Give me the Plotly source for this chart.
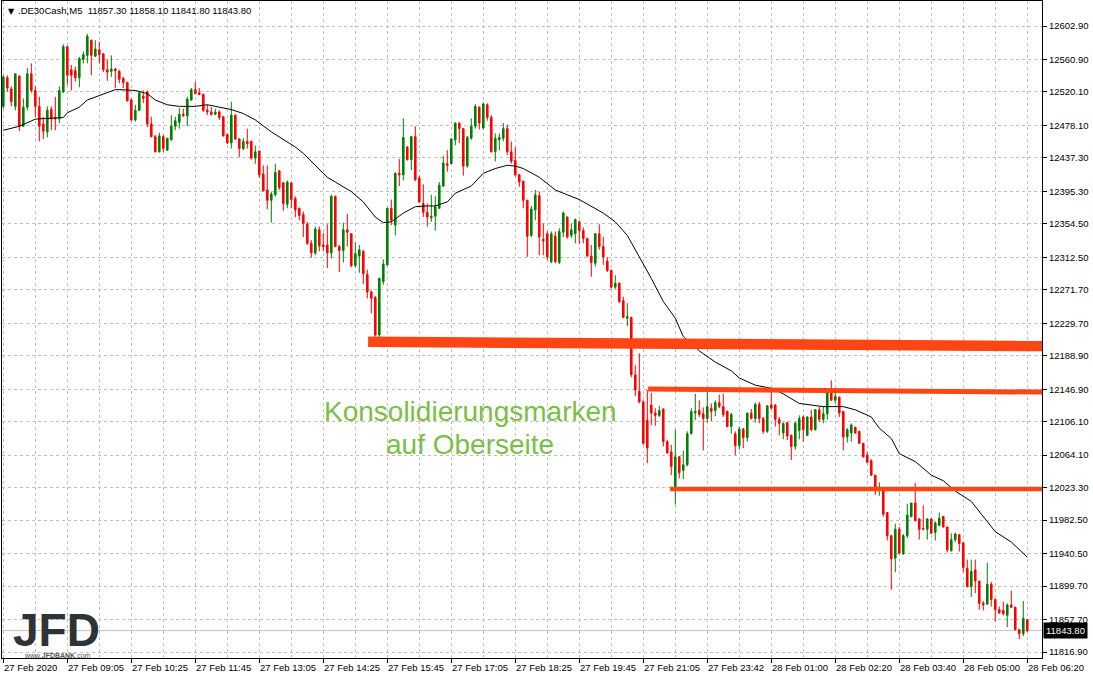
import plotly.graph_objects as go

# ---------------- data ----------------
bars = list(range(257))

opens = [
    12502, 12538, 12524, 12502, 12540, 12477, 12501, 12543, 12522, 12502,
    12480, 12470, 12498, 12488, 12486, 12520, 12577, 12548, 12547, 12538,
    12561, 12566, 12585, 12565, 12573, 12568, 12548, 12546, 12549, 12546,
    12537, 12532, 12510, 12485, 12497, 12515, 12520, 12480, 12464, 12445,
    12464, 12447, 12460, 12477, 12482, 12492, 12490, 12510, 12523, 12519,
    12517, 12497, 12495, 12492, 12495, 12489, 12467, 12456, 12491, 12461,
    12449, 12458, 12458, 12437, 12446, 12417, 12397, 12384, 12391, 12421,
    12406, 12379, 12406, 12386, 12374, 12366, 12354, 12330, 12318, 12347,
    12328, 12328, 12318, 12389, 12326, 12321, 12347, 12342, 12302, 12314,
    12320, 12291, 12269, 12262, 12215, 12282, 12303, 12374, 12353, 12418,
    12416, 12451, 12435, 12464, 12412, 12380, 12369, 12362, 12364, 12374,
    12402, 12430, 12430, 12460, 12481, 12474, 12427, 12462, 12477, 12501,
    12475, 12504, 12488, 12445, 12460, 12462, 12474, 12445, 12434, 12416,
    12408, 12384, 12340, 12372, 12390, 12335, 12342, 12307, 12339, 12306,
    12344, 12363, 12340, 12342, 12357, 12346, 12336, 12314, 12305, 12342,
    12326, 12308, 12296, 12275, 12280, 12258, 12236, 12237, 12165, 12144,
    12131, 12108, 12127, 12117, 12114, 12122, 12081, 12068, 12024, 12062,
    12045, 12052, 12091, 12117, 12120, 12116, 12110, 12123, 12120, 12130,
    12125, 12119, 12100, 12091, 12076, 12097, 12086, 12117, 12110, 12128,
    12110, 12094, 12127, 12127, 12109, 12092, 12105, 12089, 12075, 12095,
    12112, 12089, 12112, 12096, 12121, 12109, 12116, 12145, 12133, 12137,
    12119, 12087, 12092, 12099, 12094, 12079, 12064, 12057, 12039, 12022,
    12019, 11992, 11963, 11935, 11971, 11940, 11963, 11987, 12004, 11984,
    11972, 11971, 11984, 11967, 11976, 11987, 11974, 11944, 11958, 11964,
    11954, 11922, 11899, 11920, 11906, 11878, 11877, 11902, 11883, 11870,
    11869, 11863, 11876, 11873, 11845, 11840, 11857.3,
]

highs = [
    12541, 12541, 12527, 12543, 12541, 12512, 12550, 12556, 12527, 12514,
    12489, 12502, 12502, 12514, 12527, 12580, 12578, 12554, 12552, 12564,
    12571, 12593, 12586, 12585, 12583, 12569, 12561, 12566, 12550, 12548,
    12539, 12533, 12512, 12504, 12520, 12522, 12522, 12489, 12466, 12469,
    12466, 12462, 12491, 12489, 12500, 12499, 12514, 12525, 12533, 12525,
    12518, 12504, 12501, 12499, 12497, 12489, 12467, 12508, 12492, 12462,
    12462, 12474, 12459, 12453, 12446, 12428, 12428, 12395, 12430, 12422,
    12407, 12409, 12407, 12389, 12375, 12370, 12357, 12334, 12351, 12351,
    12343, 12354, 12391, 12390, 12328, 12356, 12367, 12343, 12331, 12328,
    12322, 12297, 12271, 12264, 12287, 12310, 12375, 12385, 12419, 12436,
    12487, 12452, 12465, 12477, 12415, 12404, 12380, 12391, 12389, 12407,
    12440, 12447, 12462, 12482, 12482, 12475, 12465, 12487, 12505, 12502,
    12507, 12506, 12491, 12468, 12468, 12481, 12479, 12458, 12451, 12417,
    12409, 12385, 12377, 12397, 12395, 12355, 12345, 12345, 12345, 12349,
    12370, 12364, 12355, 12361, 12358, 12350, 12337, 12328, 12343, 12354,
    12338, 12313, 12297, 12290, 12281, 12263, 12255, 12238, 12177, 12192,
    12133, 12146, 12142, 12123, 12126, 12123, 12083, 12077, 12096, 12063,
    12070, 12094, 12123, 12141, 12133, 12124, 12144, 12129, 12133, 12140,
    12141, 12120, 12117, 12094, 12100, 12098, 12117, 12122, 12130, 12131,
    12112, 12127, 12144, 12128, 12112, 12105, 12106, 12090, 12106, 12114,
    12114, 12113, 12121, 12122, 12125, 12125, 12147, 12158, 12144, 12137,
    12119, 12098, 12104, 12100, 12094, 12079, 12068, 12059, 12039, 12030,
    12020, 11992, 11963, 11978, 11974, 11965, 12003, 12004, 12029, 11985,
    12001, 11985, 11985, 11981, 11992, 11988, 11974, 11966, 11967, 11965,
    11954, 11933, 11933, 11933, 11906, 11881, 11929, 11905, 11884, 11874,
    11880, 11878, 11894, 11874, 11845, 11881, 11858.1,
]

lows = [
    12499, 12520, 12502, 12497, 12471, 12476, 12497, 12519, 12489, 12458,
    12461, 12463, 12472, 12472, 12481, 12519, 12529, 12522, 12533, 12526,
    12556, 12556, 12541, 12564, 12556, 12545, 12534, 12539, 12525, 12531,
    12525, 12508, 12483, 12483, 12496, 12506, 12476, 12463, 12444, 12444,
    12445, 12446, 12459, 12472, 12474, 12489, 12477, 12509, 12517, 12516,
    12495, 12491, 12490, 12491, 12485, 12464, 12455, 12449, 12460, 12438,
    12447, 12449, 12435, 12430, 12412, 12395, 12373, 12356, 12389, 12397,
    12371, 12374, 12374, 12363, 12359, 12338, 12328, 12312, 12315, 12320,
    12320, 12299, 12311, 12325, 12294, 12306, 12326, 12300, 12300, 12293,
    12279, 12261, 12242, 12213, 12212, 12278, 12302, 12353, 12340, 12402,
    12409, 12434, 12422, 12408, 12381, 12363, 12351, 12357, 12346, 12373,
    12401, 12420, 12430, 12453, 12456, 12415, 12425, 12460, 12474, 12473,
    12473, 12484, 12444, 12433, 12447, 12458, 12441, 12430, 12414, 12401,
    12374, 12313, 12338, 12359, 12315, 12315, 12309, 12305, 12305, 12304,
    12338, 12336, 12337, 12330, 12329, 12330, 12313, 12288, 12301, 12322,
    12303, 12294, 12273, 12273, 12255, 12236, 12226, 12162, 12138, 12129,
    12077, 12054, 12102, 12101, 12112, 12075, 12066, 12039, 12002, 12035,
    12034, 12050, 12090, 12108, 12112, 12070, 12105, 12107, 12113, 12123,
    12112, 12099, 12091, 12064, 12071, 12073, 12081, 12109, 12105, 12104,
    12091, 12092, 12122, 12100, 12089, 12084, 12083, 12058, 12071, 12084,
    12081, 12088, 12094, 12095, 12106, 12104, 12109, 12132, 12129, 12112,
    12070, 12080, 12081, 12091, 12078, 12061, 12054, 12038, 12014, 12013,
    11987, 11957, 11895, 11917, 11940, 11939, 11960, 11986, 11981, 11958,
    11970, 11958, 11965, 11957, 11975, 11973, 11942, 11943, 11955, 11943,
    11917, 11898, 11886, 11891, 11870, 11869, 11876, 11874, 11855, 11865,
    11863, 11848, 11872, 11844, 11833, 11837, 11841.8,
]

closes = [
    12539, 12525, 12508, 12543, 12477, 12501, 12543, 12522, 12502, 12477,
    12471, 12497, 12486, 12486, 12522, 12577, 12541, 12541, 12538, 12562,
    12567, 12590, 12566, 12574, 12567, 12548, 12545, 12549, 12547, 12536,
    12532, 12509, 12485, 12497, 12519, 12512, 12480, 12464, 12445, 12465,
    12449, 12462, 12477, 12484, 12492, 12490, 12511, 12523, 12518, 12517,
    12497, 12495, 12492, 12495, 12488, 12465, 12456, 12491, 12461, 12449,
    12458, 12455, 12437, 12445, 12416, 12396, 12384, 12392, 12419, 12400,
    12380, 12407, 12385, 12372, 12365, 12355, 12330, 12318, 12348, 12327,
    12326, 12318, 12389, 12326, 12321, 12347, 12344, 12302, 12317, 12322,
    12292, 12269, 12261, 12215, 12286, 12304, 12374, 12359, 12418, 12416,
    12463, 12435, 12464, 12410, 12382, 12369, 12363, 12364, 12376, 12403,
    12431, 12428, 12461, 12481, 12474, 12427, 12463, 12477, 12502, 12481,
    12505, 12488, 12445, 12462, 12463, 12474, 12445, 12433, 12416, 12407,
    12384, 12339, 12373, 12391, 12338, 12333, 12313, 12342, 12307, 12345,
    12368, 12338, 12347, 12360, 12346, 12336, 12314, 12306, 12342, 12326,
    12313, 12296, 12275, 12280, 12257, 12237, 12238, 12165, 12146, 12131,
    12079, 12073, 12117, 12114, 12120, 12081, 12067, 12050, 12062, 12042,
    12052, 12091, 12119, 12119, 12115, 12110, 12125, 12119, 12130, 12125,
    12115, 12100, 12115, 12076, 12097, 12086, 12117, 12110, 12128, 12110,
    12094, 12126, 12123, 12109, 12104, 12104, 12088, 12075, 12104, 12110,
    12096, 12112, 12096, 12121, 12109, 12116, 12145, 12133, 12138, 12117,
    12087, 12096, 12102, 12092, 12079, 12062, 12055, 12039, 12024, 12024,
    11990, 11963, 11934, 11971, 11941, 11963, 11989, 12004, 11982, 11971,
    11971, 11984, 11966, 11979, 11985, 11974, 11945, 11958, 11965, 11953,
    11923, 11899, 11918, 11906, 11878, 11876, 11902, 11883, 11870, 11866,
    11865, 11876, 11873, 11845, 11840, 11859, 11843.8,
]

# moving average line (at these bars)
ma_bar = [0, 4, 8, 12, 15, 16, 19, 21, 24, 28,
          29, 33, 36, 38, 41, 44, 48, 51, 53, 57,
          60, 63, 67, 70, 73, 75, 78, 81, 83, 87,
          90, 93, 95, 97, 100, 103, 106, 108, 111, 113,
          117, 120, 123, 126, 128, 130, 134, 138, 144, 147,
          150, 153, 156, 159, 162, 165, 168, 170, 174, 178,
          182, 184, 188, 192, 195, 199, 205, 210, 213, 217,
          219, 222, 224, 228, 232, 235, 238, 242, 245, 248,
          252, 256]
ma_val = [12472, 12477, 12486, 12487, 12488, 12494, 12501, 12510, 12516, 12523,
          12523, 12522, 12518, 12510, 12504, 12502, 12502, 12504, 12502, 12498,
          12493, 12485, 12470, 12460, 12451, 12443, 12428, 12413, 12407, 12395,
          12382, 12363, 12356, 12357, 12368, 12376, 12377, 12377, 12382, 12393,
          12402, 12418, 12424, 12428, 12427, 12424, 12413, 12397, 12385, 12377,
          12368, 12357, 12340, 12313, 12286, 12257, 12236, 12213, 12195, 12181,
          12170, 12161, 12152, 12148, 12141, 12129, 12125, 12125, 12121, 12112,
          12098, 12085, 12066, 12056, 12039, 12032, 12019, 12006, 11987, 11968,
          11955, 11936]

price_ticks = [12602.90, 12560.90, 12520.10, 12478.10, 12437.30, 12395.30,
               12354.50, 12312.50, 12271.70, 12229.70, 12188.90, 12146.90,
               12106.10, 12064.10, 12023.30, 11982.50, 11940.50, 11899.70,
               11857.70, 11816.90]

time_labels = ["27 Feb 2020", "27 Feb 09:05", "27 Feb 10:25", "27 Feb 11:45",
               "27 Feb 13:05", "27 Feb 14:25", "27 Feb 15:45", "27 Feb 17:05",
               "27 Feb 18:25", "27 Feb 19:45", "27 Feb 21:05", "27 Feb 23:42",
               "28 Feb 01:00", "28 Feb 02:20", "28 Feb 03:40", "28 Feb 05:00",
               "28 Feb 06:20"]

# hand-drawn level lines: start bar, start price, end price
level_start = [91.2, 161.2, 166.7]
level_p0 = [12206.5, 12147.0, 12021.5]
level_p1 = [12201.0, 12143.3, 12021.5]

symbol = ".DE30Cash,M5"
last_price = 11843.80
note_lines = ["Konsolidierungsmarken", "auf Oberseite"]

# ---------------- figure ----------------
FONT = "Liberation Sans"
X_RANGE = [-0.33, 259.68]
Y_RANGE = [11809.4, 12634.3]
GREEN = "#008000"
RED = "#FF0000"
LEVEL = "#FF4513"
GRID = "#C0C0C0"

hi = [max(h, o, c) for h, o, c in zip(highs, opens, closes)]
lo = [min(l, o, c) for l, o, c in zip(lows, opens, closes)]

fig = go.Figure()
fig.add_trace(go.Candlestick(
    x=bars, open=opens, high=hi, low=lo, close=closes,
    increasing=dict(line=dict(color=GREEN, width=1), fillcolor=GREEN),
    decreasing=dict(line=dict(color=RED, width=1), fillcolor=RED),
    whiskerwidth=0, showlegend=False, hoverinfo="skip"))
fig.add_trace(go.Scatter(
    x=ma_bar, y=ma_val, mode="lines",
    line=dict(color="black", width=1), showlegend=False, hoverinfo="skip"))

shapes = []
# current price line
shapes.append(dict(type="line", xref="paper", x0=0, x1=1, yref="y",
                   y0=last_price, y1=last_price,
                   line=dict(color=GRID, width=1), layer="below"))
widths = [10.5, 5, 4.5]
for s, p0, p1, w in zip(level_start, level_p0, level_p1, widths):
    shapes.append(dict(type="line", xref="x", yref="y", x0=s, x1=X_RANGE[1] + 0.5,
                       y0=p0, y1=p0 + (p1 - p0) * (X_RANGE[1] + 0.5 - s) / (X_RANGE[1] - s),
                       line=dict(color=LEVEL, width=w), layer="above"))

annotations = []
for i, lab in enumerate(time_labels):
    annotations.append(dict(x=16 * i, xref="x", y=0, yref="paper",
                            xanchor="left", yanchor="top", yshift=-2, xshift=-1,
                            text=lab, showarrow=False,
                            font=dict(family=FONT, size=9.5, color="black")))
# header
annotations.append(dict(x=0, xref="paper", y=1, yref="paper", xanchor="left",
                        yanchor="top", xshift=4, yshift=-4, text="▼", showarrow=False,
                        font=dict(family="DejaVu Sans", size=8, color="black")))
annotations.append(dict(x=0, xref="paper", y=1, yref="paper", xanchor="left",
                        yanchor="top", xshift=14, yshift=-2,
                        text=f"{symbol}  " + " ".join(f"{v:.2f}" for v in
                             [opens[-1], highs[-1], lows[-1], closes[-1]]),
                        showarrow=False, font=dict(family=FONT, size=9.5, color="black")))
# last price box
annotations.append(dict(x=1, xref="paper", y=last_price, yref="y", xanchor="left",
                        yanchor="middle", xshift=1, text=f"{last_price:.2f}",
                        showarrow=False, bgcolor="black", borderpad=2,
                        font=dict(family=FONT, size=9.5, color="white")))
# note text
annotations.append(dict(x=116.7, xref="x", y=12119.5, yref="y", text=note_lines[0],
                        showarrow=False, xanchor="center", yanchor="middle",
                        font=dict(family=FONT, size=28, color="#7ABF45")))
annotations.append(dict(x=116.7, xref="x", y=12078.0, yref="y", text=note_lines[1],
                        showarrow=False, xanchor="center", yanchor="middle",
                        font=dict(family=FONT, size=28, color="#7ABF45")))
# logo
annotations.append(dict(x=0, xref="paper", y=0, yref="paper", xanchor="center",
                        yanchor="bottom", xshift=54, yshift=10, text="<b>JFD</b>",
                        height=42, valign="top", showarrow=False,
                        font=dict(family=FONT, size=46, color="#2E3338")))
annotations.append(dict(x=0, xref="paper", y=0, yref="paper", xanchor="center",
                        yanchor="top", xshift=55, yshift=8,
                        text="www.<b>JFDBANK</b>.com", showarrow=False,
                        font=dict(family=FONT, size=7, color="#555555")))

fig.update_layout(
    width=1093, height=676,
    margin=dict(l=2, r=51, t=1, b=18),
    paper_bgcolor="white", plot_bgcolor="white",
    boxgap=0.45, showlegend=False,
    shapes=shapes, annotations=annotations,
    xaxis=dict(range=X_RANGE, rangeslider=dict(visible=False),
               showline=True, mirror=True, linecolor="black", linewidth=1,
               tick0=0, dtick=16, ticks="outside", ticklen=4, tickcolor="black",
               showticklabels=False, zeroline=False,
               showgrid=True, gridcolor=GRID, griddash="3px,3px", gridwidth=1,
               minor=dict(tick0=0, dtick=8, showgrid=True, gridcolor=GRID,
                          griddash="3px,3px", ticks="")),
    yaxis=dict(range=Y_RANGE, side="right", tickvals=price_ticks,
               ticktext=[f"{v:.2f}" for v in price_ticks],
               ticks="outside", ticklen=4, tickcolor="black",
               showline=True, mirror=True, linecolor="black", linewidth=1,
               showgrid=True, gridcolor=GRID, griddash="3px,3px", zeroline=False,
               tickfont=dict(family=FONT, size=9.5, color="black")),
)

fig.write_html(
    "out.html",
    config={"displayModeBar": False},
    post_script="document.body.style.margin='0';document.body.style.padding='0';"
                "document.body.style.overflow='hidden';",
)
